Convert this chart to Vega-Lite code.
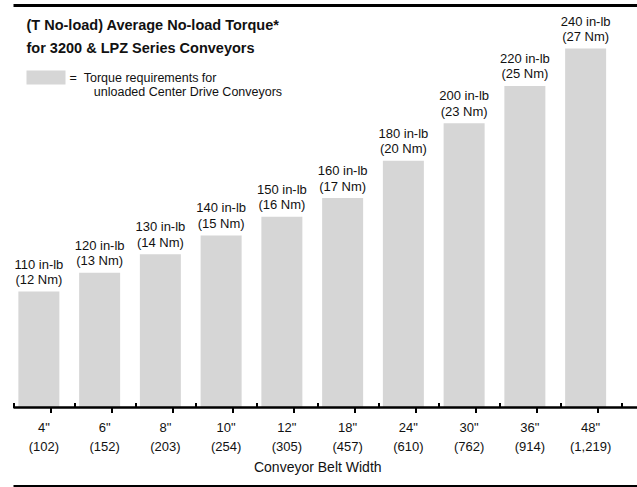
{
  "$schema": "https://vega.github.io/schema/vega-lite/v6.json",
  "width": 623.5,
  "height": 480.5,
  "autosize": {"type": "none"},
  "padding": {"left": 13.5, "top": 5.5, "right": 0, "bottom": 1},
  "background": "white",
  "config": {
    "view": {"stroke": null},
    "font": "Liberation Sans, Arial, sans-serif",
    "text": {"font": "Liberation Sans, Arial, sans-serif"}
  },
  "data": {
    "values": [
      {"w": "4\"|(102)", "inlb": 110, "nm": 12, "lbl": "110 in-lb\n(12 Nm)", "series": "Torque"},
      {"w": "6\"|(152)", "inlb": 120, "nm": 13, "lbl": "120 in-lb\n(13 Nm)", "series": "Torque"},
      {"w": "8\"|(203)", "inlb": 130, "nm": 14, "lbl": "130 in-lb\n(14 Nm)", "series": "Torque"},
      {"w": "10\"|(254)", "inlb": 140, "nm": 15, "lbl": "140 in-lb\n(15 Nm)", "series": "Torque"},
      {"w": "12\"|(305)", "inlb": 150, "nm": 16, "lbl": "150 in-lb\n(16 Nm)", "series": "Torque"},
      {"w": "18\"|(457)", "inlb": 160, "nm": 17, "lbl": "160 in-lb\n(17 Nm)", "series": "Torque"},
      {"w": "24\"|(610)", "inlb": 180, "nm": 20, "lbl": "180 in-lb\n(20 Nm)", "series": "Torque"},
      {"w": "30\"|(762)", "inlb": 200, "nm": 23, "lbl": "200 in-lb\n(23 Nm)", "series": "Torque"},
      {"w": "36\"|(914)", "inlb": 220, "nm": 25, "lbl": "220 in-lb\n(25 Nm)", "series": "Torque"},
      {"w": "48\"|(1,219)", "inlb": 240, "nm": 27, "lbl": "240 in-lb\n(27 Nm)", "series": "Torque"}
    ]
  },
  "layer": [
    {
      "mark": {"type": "bar", "width": {"band": 0.675}, "xOffset": -5},
      "encoding": {
        "x": {
          "field": "w", "type": "nominal", "sort": null,
          "scale": {"range": [0, 607.5], "paddingInner": 0, "paddingOuter": 0},
          "axis": {"orient": "bottom", "offset": -78.5, "tickBand": "extent", "tickSize": -5, "tickWidth": 2, "tickColor": "#000", "labels": false, "domain": false, "title": null, "grid": false}
        },
        "y": {
          "field": "inlb", "type": "quantitative",
          "scale": {"domain": [6, 263], "nice": false, "zero": false},
          "axis": {"orient": "left", "domain": true, "domainWidth": 3, "domainColor": "#000", "ticks": false, "labels": false, "title": null, "grid": false}
        },
        "y2": {"datum": 48},
        "fill": {
          "field": "series", "type": "nominal",
          "scale": {"range": ["#d6d6d6"]},
          "legend": {
            "orient": "none", "legendX": 13, "legendY": 13,
            "title": ["(T No-load) Average No-load Torque*", "for 3200 & LPZ Series Conveyors"],
            "titleFontSize": 14.5, "titleFontWeight": "bold", "titleLineHeight": 23, "titleColor": "#111", "titleLimit": 400, "titlePadding": -4,
            "symbolType": "M-1,-0.05L1,-0.05L1,0.67L-1,0.67Z", "symbolSize": 1521, "symbolStrokeWidth": 0,
            "labelExpr": "['=\u00a0\u00a0Torque requirements for', '\u200b\u00a0\u00a0\u00a0\u00a0\u00a0\u00a0\u00a0unloaded Center Drive Conveyors']",
            "labelFontSize": 12.5, "labelLineHeight": 16, "labelLimit": 400, "labelOffset": 4, "labelColor": "#111", "labelBaseline": "top"
          }
        }
      }
    },
    {
      "mark": {"type": "text", "baseline": "bottom", "dy": -20, "xOffset": -5, "lineBreak": "\n", "lineHeight": 15.5, "fontSize": 13, "color": "#111"},
      "encoding": {
        "x": {
          "field": "w", "type": "nominal", "sort": null,
          "axis": {"orient": "bottom", "offset": -78.5, "bandPosition": 0.62, "tickSize": 5, "tickWidth": 2, "tickColor": "#000", "domain": false, "labelExpr": "split(datum.label, '|')", "labelLineHeight": 19, "labelFontSize": 13, "labelPadding": 9, "labelColor": "#111", "labelAngle": 0, "title": "Conveyor Belt Width", "titleFontSize": 14, "titleFontWeight": "normal", "titleColor": "#111", "titlePadding": 7, "grid": false}
        },
        "y": {"field": "inlb", "type": "quantitative", "axis": null},
        "text": {"field": "lbl"}
      }
    },
    {
      "data": {"values": [{"edge": 48, "w": 2.5}, {"edge": 263, "w": 3}, {"edge": 6, "w": 2}]},
      "mark": {"type": "rule", "color": "#000", "strokeCap": "butt"},
      "encoding": {
        "y": {"field": "edge", "type": "quantitative", "axis": null},
        "strokeWidth": {"field": "w", "type": "quantitative", "scale": null, "legend": null}
      }
    }
  ],
  "resolve": {"axis": {"x": "independent", "y": "shared"}}
}
